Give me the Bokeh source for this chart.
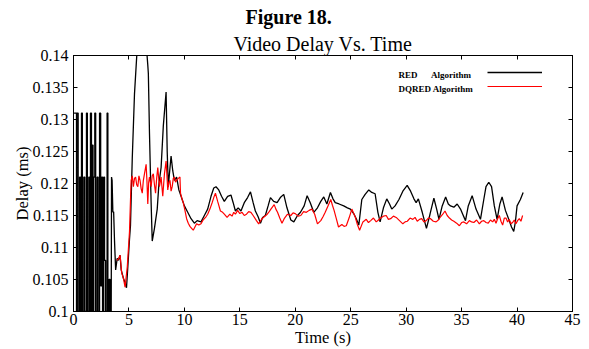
from bokeh.plotting import figure
from bokeh.models import (Range1d, FixedTicker, LinearAxis, Title, Legend, LegendItem, Label,
                          CustomLabelingPolicy)
from bokeh.core.properties import value
from bokeh.embed import file_html
from bokeh.resources import INLINE

# ---------------- data ----------------
red_time = [0.05, 0.27, 0.27, 0.30, 0.30, 0.42, 0.42, 0.55, 0.55, 0.62, 0.62, 0.72, 0.72, 0.80, 0.80,
            0.93, 0.93, 1.02, 1.02, 1.17, 1.17, 1.25, 1.25, 1.38, 1.38, 1.45, 1.45, 1.53, 1.53, 1.62,
            1.62, 1.70, 1.70, 1.76, 1.76, 1.83, 1.83, 1.92, 1.92, 2.00, 2.00, 2.13, 2.13, 2.22, 2.22,
            2.35, 2.35, 2.45, 2.45, 2.55, 2.55, 2.62, 2.62, 2.73, 2.73, 2.80, 2.80, 2.90, 2.90, 3.03,
            3.03, 3.10, 3.10, 3.20, 3.20, 3.30, 3.30, 3.40, 3.43, 3.48, 3.55, 3.62, 3.70, 3.80, 3.94,
            4.05, 4.20, 4.30, 4.50, 4.65, 4.78, 4.90, 5.05, 5.14, 5.30, 5.50, 5.74, 5.95, 6.20, 6.50,
            6.70, 6.75, 6.85, 7.00, 7.10, 7.30, 7.55, 7.70, 7.90, 8.10, 8.35, 8.45, 8.55, 8.65, 8.80,
            8.95, 9.10, 9.30, 9.50, 9.80, 10.0, 10.3, 10.6, 10.9, 11.15, 11.5, 11.8, 12.1, 12.4, 12.65,
            12.85, 13.1, 13.35, 13.6, 13.9, 14.2, 14.4, 14.6, 14.85, 15.1, 15.4, 15.7, 15.96, 16.2, 16.4,
            16.65, 16.86, 17.05, 17.3, 17.55, 17.76, 18.05, 18.36, 18.65, 18.96, 19.25, 19.6, 19.87, 20.2,
            20.47, 20.8, 21.07, 21.35, 21.67, 22.0, 22.3, 22.57, 22.85, 23.17, 23.4, 23.6, 23.95, 24.37,
            24.7, 24.97, 25.3, 25.5, 25.73, 26.0, 26.3, 26.63, 26.9, 27.2, 27.45, 27.65, 27.95, 28.25,
            28.5, 28.7, 29.0, 29.35, 29.7, 30.09, 30.4, 30.7, 30.9, 31.1, 31.45, 31.83, 32.15, 32.5,
            32.75, 32.96, 33.25, 33.56, 33.8, 34.0, 34.3, 34.6, 34.9, 35.1, 35.35, 35.6, 35.95, 36.3,
            36.7, 37.0, 37.2, 37.45, 37.7, 37.95, 38.2, 38.45, 38.65, 38.95, 39.25, 39.5, 39.7, 39.85,
            40.0, 40.3, 40.55]
red_delay = [0.131, 0.131, 0.1, 0.1, 0.131, 0.131, 0.1, 0.1, 0.121, 0.121, 0.1, 0.1, 0.131, 0.131, 0.1,
             0.1, 0.121, 0.121, 0.1, 0.1, 0.131, 0.131, 0.1, 0.1, 0.121, 0.121, 0.1, 0.1, 0.131, 0.131,
             0.1, 0.1, 0.126, 0.126, 0.1, 0.1, 0.121, 0.121, 0.131, 0.131, 0.1, 0.1, 0.121, 0.121, 0.1,
             0.1, 0.131, 0.131, 0.104, 0.104, 0.121, 0.121, 0.1, 0.1, 0.121, 0.121, 0.108, 0.108, 0.1, 0.1,
             0.131, 0.131, 0.1, 0.1, 0.105, 0.105, 0.1, 0.1, 0.121, 0.1205, 0.1155, 0.1156, 0.111, 0.1065, 0.1083,
             0.108, 0.1088, 0.1065, 0.1052, 0.1045, 0.1037, 0.107, 0.1113, 0.1135, 0.124, 0.134, 0.141, 0.146, 0.148, 0.143,
             0.1385, 0.1372, 0.128, 0.117, 0.111, 0.113, 0.116, 0.1199, 0.1225, 0.129, 0.1343, 0.125, 0.1195, 0.1215, 0.1243,
             0.122, 0.1205, 0.121, 0.119, 0.1175, 0.1165, 0.1155, 0.1145, 0.1138, 0.1142, 0.114, 0.115, 0.116, 0.118, 0.1193,
             0.1195, 0.119, 0.118, 0.1172, 0.118, 0.1182, 0.117, 0.1157, 0.1162, 0.1157, 0.117, 0.1178, 0.1187, 0.117, 0.1157,
             0.1148, 0.1138, 0.1147, 0.115, 0.1165, 0.1178, 0.1172, 0.117, 0.1178, 0.1183, 0.1162, 0.1143, 0.114, 0.115,
             0.1155, 0.1165, 0.1181, 0.117, 0.1155, 0.1162, 0.1172, 0.1179, 0.1168, 0.1186, 0.1176, 0.117, 0.1168, 0.1165,
             0.1162, 0.116, 0.1152, 0.1145, 0.1135, 0.1175, 0.1183, 0.119, 0.1186, 0.1184, 0.1155, 0.114, 0.1162, 0.1176,
             0.1168, 0.116, 0.1165, 0.1175, 0.1188, 0.1197, 0.1188, 0.1176, 0.117, 0.1176, 0.1155, 0.113, 0.1152, 0.1177,
             0.116, 0.1144, 0.1165, 0.1179, 0.1168, 0.1165, 0.1163, 0.1168, 0.116, 0.1152, 0.1142, 0.1165, 0.1181, 0.116,
             0.1144, 0.1175, 0.1195, 0.1202, 0.1195, 0.1165, 0.1144, 0.1168, 0.1179, 0.1158, 0.1144, 0.1132, 0.1125, 0.114,
             0.1165, 0.1175, 0.1186]

dqred_time = [3.9, 4.05, 4.2, 4.35, 4.5, 4.65, 4.85, 5.05, 5.15, 5.2, 5.3, 5.4, 5.5, 5.6, 5.7, 5.8, 5.9, 6.0,
              6.1, 6.2, 6.3, 6.4, 6.55, 6.62, 6.7, 6.78, 6.85, 7.0, 7.1, 7.2, 7.3, 7.4, 7.5, 7.6, 7.75,
              7.9, 8.05, 8.2, 8.35, 8.5, 8.6, 8.7, 8.8, 8.9, 9.0, 9.1, 9.2, 9.3, 9.45, 9.6, 9.65, 9.8,
              9.9, 10.05, 10.2, 10.35, 10.5, 10.65, 10.8, 10.95, 11.1, 11.3, 11.5, 11.65, 11.8, 11.95,
              12.1, 12.3, 12.5, 12.65, 12.8, 13.0, 13.25, 13.45, 13.6, 13.85, 14.1, 14.3, 14.45, 14.6,
              14.8, 15.0, 15.2, 15.4, 15.6, 15.8, 16.0, 16.2, 16.5, 16.7, 16.85, 17.0, 17.2, 17.47, 17.65,
              17.8, 18.1, 18.25, 18.4, 18.6, 18.8, 19.0, 19.3, 19.6, 19.8, 20.0, 20.25, 20.5, 20.75, 21.0,
              21.25, 21.5, 21.75, 22.0, 22.3, 22.5, 22.7, 22.95, 23.2, 23.35, 23.5, 23.7, 23.9, 24.2, 24.4,
              24.6, 24.85, 25.1, 25.25, 25.4, 25.6, 25.8, 26.1, 26.4, 26.6, 26.8, 27.05, 27.3, 27.5, 27.7,
              27.95, 28.2, 28.4, 28.6, 28.85, 29.1, 29.4, 29.7, 29.9, 30.1, 30.35, 30.6, 30.8, 31.0, 31.2,
              31.4, 31.6, 31.8, 32.0, 32.2, 32.45, 32.7, 32.9, 33.1, 33.3, 33.5, 33.7, 33.9, 34.1, 34.3,
              34.55, 34.8, 35.0, 35.2, 35.45, 35.7, 35.9, 36.1, 36.35, 36.6, 36.8, 37.0, 37.2, 37.4, 37.6,
              37.8, 37.95, 38.1, 38.25, 38.4, 38.55, 38.7, 38.85, 39.0, 39.15, 39.3, 39.45, 39.6, 39.75,
              39.9, 40.05, 40.2, 40.35, 40.5]
dqred_delay = [0.108, 0.1082, 0.1088, 0.106, 0.1052, 0.1038, 0.107, 0.1125, 0.118, 0.1205, 0.1212, 0.1195, 0.1208, 0.121, 0.1198, 0.1195, 0.1212, 0.1205,
               0.1192, 0.1185, 0.1205, 0.1215, 0.123, 0.1205, 0.1168, 0.1202, 0.121, 0.1195, 0.1212, 0.1215, 0.1198, 0.1185, 0.1208, 0.1225, 0.1195,
               0.121, 0.118, 0.1215, 0.1235, 0.119, 0.1202, 0.1205, 0.1188, 0.1195, 0.1208, 0.121, 0.1202, 0.1205, 0.1208, 0.121, 0.1185, 0.1175,
               0.117, 0.1158, 0.1145, 0.1138, 0.1133, 0.113, 0.1127, 0.1132, 0.1137, 0.1135, 0.1137, 0.1142, 0.1145, 0.1148,
               0.1152, 0.116, 0.117, 0.1178, 0.1185, 0.1172, 0.1157, 0.1155, 0.1152, 0.1147, 0.1152, 0.1149, 0.1155, 0.1152,
               0.1158, 0.1153, 0.1155, 0.115, 0.1152, 0.1156, 0.1155, 0.115, 0.1142, 0.1137, 0.1141, 0.1145, 0.1148, 0.1152, 0.1156,
               0.116, 0.1167, 0.116, 0.1155, 0.1146, 0.1138, 0.1145, 0.1152, 0.115, 0.1154, 0.1153, 0.1149, 0.115, 0.1156, 0.1155,
               0.1158, 0.116, 0.1152, 0.1137, 0.1142, 0.1148, 0.1155, 0.1165, 0.1175, 0.1166, 0.1158, 0.1145, 0.1132, 0.1136, 0.1133,
               0.1134, 0.1146, 0.116, 0.1154, 0.1148, 0.1136, 0.1127, 0.114, 0.1144, 0.1139, 0.1142, 0.1146, 0.114, 0.1143, 0.1146,
               0.1149, 0.115, 0.1144, 0.1145, 0.1149, 0.1147, 0.1142, 0.1137, 0.114, 0.1141, 0.1146, 0.1144, 0.1147, 0.1141, 0.1144,
               0.1145, 0.114, 0.1142, 0.1146, 0.1145, 0.1141, 0.114, 0.1143, 0.1148, 0.1152, 0.1157, 0.115, 0.1146, 0.1143, 0.1141,
               0.1138, 0.1134, 0.1139, 0.114, 0.1137, 0.1142, 0.114, 0.1139, 0.1143, 0.1137, 0.1141, 0.1142, 0.1139, 0.1138, 0.1143,
               0.114, 0.1144, 0.1138, 0.1145, 0.115, 0.1141, 0.1135, 0.1146, 0.1146, 0.114, 0.1144, 0.1137, 0.1139, 0.1143,
               0.1137, 0.1142, 0.1145, 0.1141, 0.115]

x_ticks = [0, 5, 10, 15, 20, 25, 30, 35, 40, 45]
y_ticks = [0.1, 0.105, 0.11, 0.115, 0.12, 0.125, 0.13, 0.135, 0.14]
y_tick_labels = ["0.1", "0.105", "0.11", "0.115", "0.12", "0.125", "0.13", "0.135", "0.14"]
legend_labels = ["RED\u00a0\u00a0\u00a0\u00a0\u00a0\u00a0Algorithm", "DQRED Algorithm"]
figure_caption = "Figure 18."
chart_title = "Video Delay Vs. Time"

FONT = "Liberation Serif"
X0, X1, Y0, Y1 = 0, 45, 0.1, 0.14
FL, FR, FT, FB = 73, 572, 55, 314  # frame edges in px


def px_x(px):
    return X0 + (px - FL) / (FR - FL) * (X1 - X0)


def px_y(py):
    return Y1 - (py - FT) / (FB - FT) * (Y1 - Y0)


p = figure(width=589, height=349, x_range=Range1d(X0, X1), y_range=Range1d(Y0, Y1),
           output_backend="svg", toolbar_location=None,
           min_border_left=FL, min_border_right=589 - FR, min_border_top=FT, min_border_bottom=349 - FB)
p.grid.visible = False
p.outline_line_color = "black"
p.outline_line_width = 1
p.background_fill_color = "white"
p.border_fill_color = "white"

for ax in (p.xaxis[0], p.yaxis[0]):
    ax.axis_line_color = "black"
    ax.major_tick_in = 4
    ax.major_tick_out = 0
    ax.minor_tick_line_color = None
    ax.major_label_text_font = FONT
    ax.major_label_text_font_size = "16px"
    ax.major_label_text_color = "black"
    ax.axis_label_text_font = FONT
    ax.axis_label_text_font_size = "16.5px"
    ax.axis_label_text_font_style = "normal"
    ax.axis_label_text_color = "black"

p.xaxis.ticker = FixedTicker(ticks=x_ticks)
p.yaxis.ticker = FixedTicker(ticks=y_ticks)
p.yaxis.major_label_overrides = {t: l for t, l in zip(y_ticks, y_tick_labels)}
p.xaxis.axis_label = "Time (s)"
p.yaxis.axis_label = "Delay (ms)"
p.xaxis.major_label_standoff = 2
p.xaxis.axis_label_standoff = 0
p.yaxis.major_label_standoff = 5
p.yaxis.axis_label_standoff = -2

no_labels = "for (const i of indices) { indices.unset(i) }\nreturn indices"
right = LinearAxis(ticker=FixedTicker(ticks=y_ticks), major_tick_in=4, major_tick_out=0,
                   minor_tick_line_color=None, major_label_standoff=0, major_label_text_font_size="0px",
                   major_label_policy=CustomLabelingPolicy(code=no_labels))
top = LinearAxis(ticker=FixedTicker(ticks=x_ticks), major_tick_in=4, major_tick_out=0,
                 minor_tick_line_color=None, major_label_standoff=0, major_label_text_font_size="0px",
                 major_label_policy=CustomLabelingPolicy(code=no_labels))
p.add_layout(right, "right")
p.add_layout(top, "above")

p.add_layout(Title(text=chart_title, align="center", text_font=FONT,
                   text_font_size="20px", text_font_style="normal", text_color="black", standoff=2), "above")
p.add_layout(Title(text=figure_caption, align="left", offset=172, text_font=FONT,
                   text_font_size="20px", text_font_style="bold", text_color="black", standoff=0,
                   vertical_align="top"), "above")

r_red = p.line(red_time, red_delay, line_color="black", line_width=1.3)
r_dq = p.line(dqred_time, dqred_delay, line_color="red", line_width=1.2)

# legend: sample lines on the right, names on the left
legend = Legend(items=[LegendItem(label=value("\u00a0"), renderers=[r_red]),
                       LegendItem(label=value("\u00a0"), renderers=[r_dq])],
                location=(487 - FL, FB - 96), orientation="vertical",
                glyph_width=55, glyph_height=14, label_height=14, label_width=0, label_standoff=0,
                label_text_font=FONT, label_text_font_size="9px",
                padding=0, spacing=0, margin=0,
                border_line_alpha=0, background_fill_alpha=0)
p.add_layout(legend, "center")

for txt, py in zip(legend_labels, [75, 89]):
    p.add_layout(Label(x=px_x(398), y=px_y(py), text=txt, text_font=FONT, text_font_size="9px",
                       text_font_style="bold", text_baseline="middle", text_align="left",
                       text_color="black"))

open("out.html", "w").write(file_html(p, INLINE))
